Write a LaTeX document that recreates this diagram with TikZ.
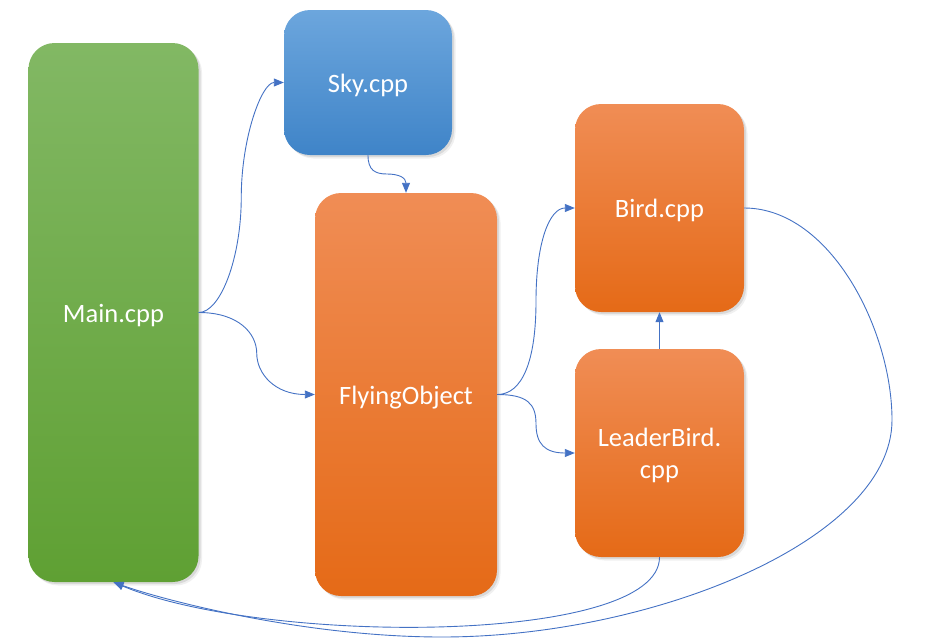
\documentclass[tikz,border=0pt]{standalone}
\usepackage{fontspec}
\setmainfont{Carlito}
\usetikzlibrary{arrows.meta,shadows,calc}
\definecolor{gtop}{HTML}{82B864}
\definecolor{gbot}{HTML}{5FA033}
\definecolor{btop}{HTML}{6CA6DD}
\definecolor{bbot}{HTML}{3F84C8}
\definecolor{otop}{HTML}{F08D55}
\definecolor{obot}{HTML}{E56A17}
\definecolor{conncol}{HTML}{4472C4}
\tikzset{
  box/.style={rectangle, rounded corners=26pt, text=white, align=center,
    font=\fontsize{26.5}{32}\selectfont, inner sep=0pt,
    text height=24pt, text depth=4.5pt,
    drop shadow={opacity=0.12, shadow xshift=3.5pt, shadow yshift=-3.5pt},
    drop shadow={opacity=0.2, shadow xshift=2pt, shadow yshift=-2pt}},
  greenbox/.style={box, shading=axis, top color=gtop, bottom color=gbot},
  bluebox/.style={box, shading=axis, top color=btop, bottom color=bbot},
  orangebox/.style={box, shading=axis, top color=otop, bottom color=obot},
  conn/.style={draw=conncol, line width=0.9pt, -{Triangle[length=10pt,width=8pt]}}
}
\begin{document}
\begin{tikzpicture}[x=1pt,y=-1pt]
\useasboundingbox (0,0) rectangle (934,643);
\node[greenbox, minimum width=170pt, minimum height=539pt] (main) at (113.5,312.5) {Main.cpp};
\node[bluebox, minimum width=168pt, minimum height=145pt] (sky) at (368,82.5) {Sky.cpp};
\node[orangebox, minimum width=182pt, minimum height=403pt] (fly) at (406,394.5) {FlyingObject};
\node[orangebox, minimum width=169pt, minimum height=208pt] (bird) at (659.5,208) {Bird.cpp};
\node[orangebox, minimum width=169pt, minimum height=208pt, text height=56pt] (leader) at (659.5,453) {LeaderBird.\\cpp};
\coordinate (right) at (892,420);
\coordinate (bottom) at (442,637);
% Main -> Sky
\draw[conn] (main.east) .. controls +(22,0) and +(0,60) .. ($(main.east)!0.5!(sky.west)$)
  .. controls +(0,-60) and +(-22,0) .. (sky.west);
% Main -> FlyingObject
\draw[conn] (main.east) .. controls +(40,0) and +(0,-20) .. ($(main.east)!0.5!(fly.west)$)
  .. controls +(0,20) and +(-40,0) .. (fly.west);
% Sky -> FlyingObject
\draw[conn] (sky.south) .. controls +(0,15) and +(-12,0) .. ($(sky.south)!0.5!(fly.north)$)
  .. controls +(12,0) and +(0,-15) .. (fly.north);
% FlyingObject -> Bird
\draw[conn] (fly.east) .. controls +(25,0) and +(0,60) .. ($(fly.east)!0.5!(bird.west)$)
  .. controls +(0,-60) and +(-25,0) .. (bird.west);
% FlyingObject -> LeaderBird
\draw[conn] (fly.east) .. controls +(30,0) and +(0,-20) .. ($(fly.east)!0.5!(leader.west)$)
  .. controls +(0,20) and +(-30,0) .. (leader.west);
% LeaderBird -> Bird
\draw[conn] (leader.north) -- (bird.south);
% LeaderBird -> Main
\draw[conn] (leader.south) .. controls +(0,88) and +(150,63) .. (main.south);
% Bird -> Main
\draw[conn] (bird.east) .. controls +(86,0) and +(0,-90) .. (right)
  .. controls +(0,120) and +(210,0) .. (bottom)
  .. controls +(-140,0) and +(47,17) .. (main.south);
\end{tikzpicture}
\end{document}
